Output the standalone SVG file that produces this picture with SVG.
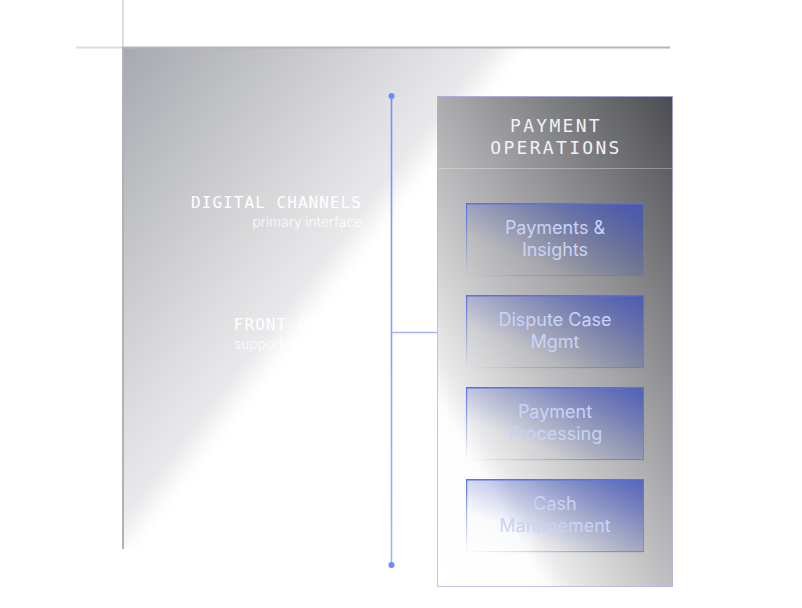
<svg xmlns="http://www.w3.org/2000/svg" width="802" height="608" viewBox="0 0 802 608">
  <defs>
    <linearGradient id="panelGrad" gradientUnits="userSpaceOnUse" x1="124" y1="48" x2="376.5" y2="244.8">
      <stop offset="0" stop-color="#a8a9af"/>
      <stop offset="0.36" stop-color="#c2c3c7"/>
      <stop offset="0.75" stop-color="#dfdfe1"/>
      <stop offset="0.9" stop-color="#e9e9eb"/>
      <stop offset="0.97" stop-color="#fbfbfc"/>
      <stop offset="1" stop-color="#ffffff"/>
    </linearGradient>
    <linearGradient id="contGrad" gradientUnits="userSpaceOnUse" x1="437" y1="587" x2="825.4" y2="363.9">
      <stop offset="0" stop-color="#ffffff"/>
      <stop offset="0.21" stop-color="#fdfdfd"/>
      <stop offset="0.255" stop-color="#ebebec"/>
      <stop offset="0.335" stop-color="#d8d8d9"/>
      <stop offset="0.446" stop-color="#c0c0c2"/>
      <stop offset="0.547" stop-color="#acacae"/>
      <stop offset="1" stop-color="#4c4d52"/>
    </linearGradient>
    <linearGradient id="boxGrad" x1="1" y1="0" x2="0" y2="1">
      <stop offset="0" stop-color="#3c50be" stop-opacity="0.8"/>
      <stop offset="0.4" stop-color="#3c50be" stop-opacity="0.32"/>
      <stop offset="0.72" stop-color="#3c50be" stop-opacity="0.02"/>
      <stop offset="1" stop-color="#3c50be" stop-opacity="0"/>
    </linearGradient>
    <linearGradient id="leftEdge" x1="0" y1="0" x2="0" y2="1">
      <stop offset="0" stop-color="#5a72e0" stop-opacity="1"/>
      <stop offset="1" stop-color="#5a72e0" stop-opacity="0"/>
    </linearGradient>
    <linearGradient id="bottomEdge" x1="0" y1="0" x2="1" y2="0">
      <stop offset="0" stop-color="#7a7c90" stop-opacity="0"/>
      <stop offset="1" stop-color="#7a7c90" stop-opacity="0.8"/>
    </linearGradient>
    <linearGradient id="spineGrad" gradientUnits="userSpaceOnUse" x1="0" y1="96" x2="0" y2="565">
      <stop offset="0" stop-color="#6f8ffb"/>
      <stop offset="1" stop-color="#9fb3fa"/>
    </linearGradient>
    <style>
      .mono { font-family: "DejaVu Sans Mono", "Liberation Mono", monospace; }
      .sans { font-family: Inter, "Noto Sans", "Liberation Sans", sans-serif; }
      .lbl { font-size: 16px; letter-spacing: 1.05px; fill: #ffffff; text-anchor: end; }
      .sub { font-size: 13.5px; fill: #ffffff; fill-opacity: 0.75; text-anchor: end; }
      .hdr { font-size: 18px; letter-spacing: 2.3px; fill: #f2f2f6; text-anchor: middle; }
      .box { fill: url(#boxGrad); }
      .btxt { font-size: 18px; fill: #cad3f6; text-anchor: middle; }
      .top { stroke: #5a72e0; stroke-width: 1.5; }
      .lft { fill: url(#leftEdge); }
      .rgt { stroke: #7a7e9e; stroke-opacity: 0.6; stroke-width: 1; }
      .bot { fill: url(#bottomEdge); }
    </style>
  </defs>

  <rect width="802" height="608" fill="#ffffff"/>

  <g id="frame">
    <line x1="123" y1="0" x2="123" y2="47" stroke="#dcdce0" stroke-width="2"/>
    <line x1="76" y1="47.5" x2="123" y2="47.5" stroke="#dcdce0" stroke-width="2"/>
    <rect x="124" y="48" width="546" height="501" fill="url(#panelGrad)"/>
    <line x1="123" y1="47.5" x2="670" y2="47.5" stroke="#b6b6ba" stroke-width="2"/>
    <line x1="123" y1="47" x2="123" y2="549" stroke="#b2b2b6" stroke-width="2"/>
  </g>

  <g id="digital-channels">
    <text class="mono lbl" x="362" y="208">DIGITAL CHANNELS</text>
    <text class="sans sub" x="362" y="227">primary interface</text>
  </g>

  <g id="front-office">
    <text class="mono lbl" x="362" y="330">FRONT OFFICE</text>
    <text class="sans sub" x="362" y="349">support, agent tools</text>
  </g>

  <g id="connectors">
    <line x1="391.5" y1="96" x2="391.5" y2="565" stroke="url(#spineGrad)" stroke-width="1.6"/>
    <line x1="392" y1="332.5" x2="437" y2="332.5" stroke="#a6b4f4" stroke-width="1.5"/>
    <circle cx="391.5" cy="96" r="3" fill="#6b8cff"/>
    <circle cx="391.5" cy="565" r="3" fill="#6b8cff"/>
  </g>

  <g id="payment-operations">
    <rect x="437.5" y="96.5" width="235" height="490" fill="url(#contGrad)" stroke="#9a9fdc" stroke-opacity="0.6" stroke-width="1"/>
    <line x1="438" y1="168.5" x2="672" y2="168.5" stroke="#ffffff" stroke-opacity="0.3" stroke-width="1"/>
    <text class="mono hdr" x="556" y="132">PAYMENT</text>
    <text class="mono hdr" x="556" y="154">OPERATIONS</text>
  </g>

  <g id="payments-insights">
    <rect class="box" x="466" y="203" width="178" height="73"/>
    <rect class="lft" x="466" y="203" width="1.2" height="73"/>
    <rect class="bot" x="466" y="275" width="178" height="1.2"/>
    <line class="rgt" x1="643.5" y1="204" x2="643.5" y2="276"/>
    <line class="top" x1="466" y1="203.75" x2="644" y2="203.75"/>
    <text class="sans btxt" x="555" y="234">Payments &amp;</text>
    <text class="sans btxt" x="555" y="256">Insights</text>
  </g>

  <g id="dispute-case-mgmt">
    <rect class="box" x="466" y="295" width="178" height="73"/>
    <rect class="lft" x="466" y="295" width="1.2" height="73"/>
    <rect class="bot" x="466" y="367" width="178" height="1.2"/>
    <line class="rgt" x1="643.5" y1="296" x2="643.5" y2="368"/>
    <line class="top" x1="466" y1="295.75" x2="644" y2="295.75"/>
    <text class="sans btxt" x="555" y="326">Dispute Case</text>
    <text class="sans btxt" x="555" y="348">Mgmt</text>
  </g>

  <g id="payment-processing">
    <rect class="box" x="466" y="387" width="178" height="73"/>
    <rect class="lft" x="466" y="387" width="1.2" height="73"/>
    <rect class="bot" x="466" y="459" width="178" height="1.2"/>
    <line class="rgt" x1="643.5" y1="388" x2="643.5" y2="460"/>
    <line class="top" x1="466" y1="387.75" x2="644" y2="387.75"/>
    <text class="sans btxt" x="555" y="418">Payment</text>
    <text class="sans btxt" x="555" y="440">Processing</text>
  </g>

  <g id="cash-management">
    <rect class="box" x="466" y="479" width="178" height="73"/>
    <rect class="lft" x="466" y="479" width="1.2" height="73"/>
    <rect class="bot" x="466" y="551" width="178" height="1.2"/>
    <line class="rgt" x1="643.5" y1="480" x2="643.5" y2="552"/>
    <line class="top" x1="466" y1="479.75" x2="644" y2="479.75"/>
    <text class="sans btxt" x="555" y="510">Cash</text>
    <text class="sans btxt" x="555" y="532">Management</text>
  </g>
</svg>
